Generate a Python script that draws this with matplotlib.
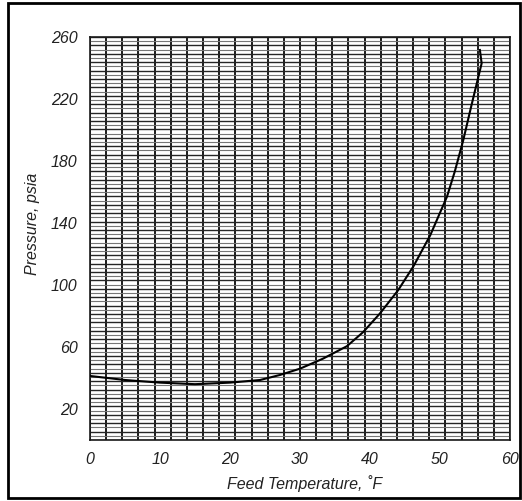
import numpy as np
import matplotlib
matplotlib.use('Agg')
import matplotlib.pyplot as plt
from matplotlib.patches import Rectangle

# feed temperature (F) vs pressure (psia)
temp = [0, 5, 10, 15, 20, 24.3, 27.1, 30, 33.3, 36.7, 39, 41.4, 44, 46.2,
        48.6, 51, 52.1, 53.3, 54.5, 55.95, 55.7]
pres = [41.3, 38.7, 37, 36, 37, 38.7, 41.9, 46, 52.5, 60.5, 69.5, 81.5, 96.5,
        112, 132, 157, 173, 193, 216, 243, 251.6]

xticks = [0, 10, 20, 30, 40, 50, 60]
yticks = [20, 60, 100, 140, 180, 220, 260]

plt.rcParams['font.family'] = 'Liberation Sans'
plt.rcParams['font.style'] = 'italic'

fig = plt.figure(figsize=(5.22, 5.01), dpi=100)
ax = fig.add_axes([0.1724, 0.1218, 0.8046, 0.8044])

ax.set_xlim(0, 60)
ax.set_ylim(0, 260)

# graph paper
for x in np.linspace(0, 60, 27):
    ax.axvline(x, color='#1a1a1a', lw=1.4, zorder=1)
for y in np.linspace(0, 260, 49):
    ax.axhline(y, color='#262626', lw=1.0, zorder=1)
for y in np.linspace(0, 260, 49)[:-1] + 260 / 96:
    ax.axhline(y, color='#777777', lw=0.8, zorder=1)

ax.plot(temp, pres, color='black', lw=1.5, zorder=3, solid_joinstyle='round')

ax.set_xticks(xticks)
ax.set_yticks(yticks)
ax.tick_params(length=0, labelsize=11.5, colors='#222222')
ax.tick_params(axis='x', pad=9)
ax.tick_params(axis='y', pad=9)
for s in ax.spines.values():
    s.set_linewidth(1.2)
    s.set_color('#1a1a1a')

ax.set_xlabel('Feed Temperature, ˚F', fontsize=11.5, color='#222222')
ax.set_ylabel('Pressure, psia', fontsize=11.5, color='#222222')
ax.xaxis.set_label_coords(0.512, -0.086)
ax.yaxis.set_label_coords(-0.118, 0.535)

fig.patches.append(Rectangle((8 / 522, 3 / 501), 512 / 522, 495 / 501,
                             transform=fig.transFigure, fill=False,
                             edgecolor='black', lw=2))

fig.savefig('out.png', dpi=100)
